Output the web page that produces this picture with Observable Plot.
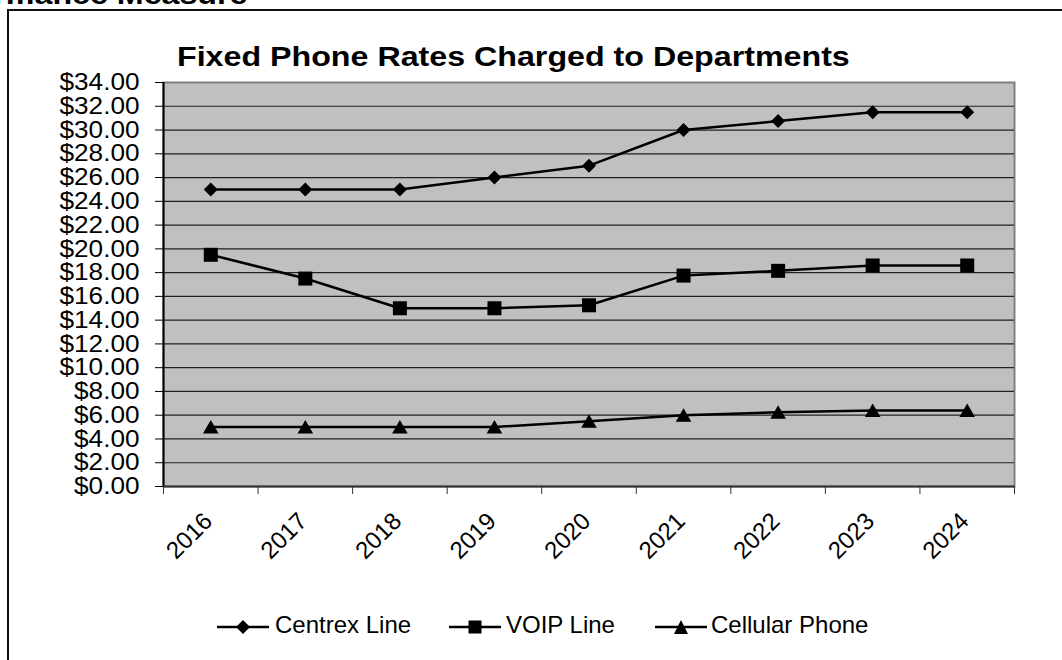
<!DOCTYPE html>
<html><head><meta charset="utf-8">
<script src="https://cdn.jsdelivr.net/npm/d3@7"></script>
<script src="https://cdn.jsdelivr.net/npm/@observablehq/plot@0.6"></script>
<style>
html,body{margin:0;padding:0;background:#fff;overflow:hidden}
#wrap{position:relative;width:1062px;height:660px;overflow:hidden;font-family:"Liberation Sans",Arial,sans-serif;color:#000}
#chart{position:absolute;left:0;top:0}
.outer{position:absolute;left:7px;top:9px;width:1200px;height:800px;border-left:2px solid #111;border-top:2px solid #111;box-sizing:border-box}
.big{position:absolute;font-weight:bold;font-size:28px;line-height:28px;white-space:nowrap;transform:scaleX(1.15);transform-origin:0 0}
.lg-sym{position:absolute;top:616.7px;width:52px;height:20px}
.lg-txt{position:absolute;top:612.7px;font-size:24px;line-height:24px;white-space:nowrap}
</style></head>
<body>
<div id="wrap">
  <div id="chart"></div>
  <div class="outer"></div>
  <div class="big" style="left:-89px;top:-19px">Performance Measure</div>
  <div class="big" style="left:177px;top:43px">Fixed Phone Rates Charged to Departments</div>
  <svg class="lg-sym" style="left:217px" viewBox="0 0 52 20"><line x1="0" y1="10" x2="52" y2="10" stroke="#000" stroke-width="2.5"/><path d="M26,3L33,10L26,17L19,10Z" fill="#000"/></svg>
  <div class="lg-txt" style="left:275px">Centrex Line</div>
  <svg class="lg-sym" style="left:449px" viewBox="0 0 52 20"><line x1="0" y1="10" x2="52" y2="10" stroke="#000" stroke-width="2.5"/><rect x="19.5" y="3.5" width="13" height="13" fill="#000"/></svg>
  <div class="lg-txt" style="left:506px">VOIP Line</div>
  <svg class="lg-sym" style="left:655px" viewBox="0 0 52 20"><line x1="0" y1="10" x2="52" y2="10" stroke="#000" stroke-width="2.5"/><path d="M26,3L33,17L19,17Z" fill="#000"/></svg>
  <div class="lg-txt" style="left:711px">Cellular Phone</div>
</div>
<script>
const years = ["2016", "2017", "2018", "2019", "2020", "2021", "2022", "2023", "2024"];
const centrex = [25.00, 25.00, 25.00, 26.00, 27.00, 30.00, 30.75, 31.50, 31.50];
const voip = [19.50, 17.50, 15.00, 15.00, 15.25, 17.75, 18.15, 18.60, 18.60];
const cellular = [5.00, 5.00, 5.00, 5.00, 5.50, 6.00, 6.25, 6.40, 6.40];
const seriesNames = ["Centrex Line", "VOIP Line", "Cellular Phone"];
const yTicks = [0, 2, 4, 6, 8, 10, 12, 14, 16, 18, 20, 22, 24, 26, 28, 30, 32, 34];
const xBounds = [0, 1, 2, 3, 4, 5, 6, 7, 8, 9];

const rows = [];
[centrex, voip, cellular].forEach((vals, s) =>
  vals.forEach((v, i) => rows.push({series: seriesNames[s], i, year: years[i], value: v})));
const bySeries = name => rows.filter(d => d.series === name);
const xPos = d => d.i + 0.5;

const plot = Plot.plot({
  width: 1062, height: 660,
  marginLeft: 163, marginRight: 48, marginTop: 82, marginBottom: 174,
  x: {domain: [0, 9], label: null},
  y: {domain: [0, 34], label: null},
  style: {background: "transparent", fontFamily: "Liberation Sans, Arial, sans-serif", fontSize: "24px", color: "#000", overflow: "visible"},
  marks: [
    Plot.frame({fill: "#c0c0c0", stroke: "#808080", strokeWidth: 2}),
    Plot.ruleY(yTicks.filter(t => t > 0 && t < 34), {stroke: "#222", strokeWidth: 1.2}),
    Plot.ruleX([0], {stroke: "#000", strokeWidth: 2}),
    Plot.ruleY([0], {stroke: "#333", strokeWidth: 2}),
    Plot.axisY({ticks: yTicks, tickSize: 8, tickPadding: 16, tickFormat: d3.format("$.2f"), stroke: "#000", fill: "#000", fontSize: 24, label: null}),
    Plot.axisX({ticks: xBounds, tickSize: 8, tickFormat: () => "", stroke: "#333", label: null}),
    Plot.text(years, {x: (d, i) => i + 0.5, frameAnchor: "bottom", dy: 36, dx: 3, rotate: -45, textAnchor: "end", lineAnchor: "bottom", fontSize: 24, fill: "#000"}),
    Plot.line(rows, {x: xPos, y: "value", z: "series", stroke: "#000", strokeWidth: 2.5}),
    Plot.dot(bySeries("Centrex Line"), {x: xPos, y: "value", symbol: "diamond2", r: 6.3, fill: "#000"}),
    Plot.dot(bySeries("VOIP Line"), {x: xPos, y: "value", symbol: "square", r: 7.9, fill: "#000"}),
    Plot.dot(bySeries("Cellular Phone"), {x: xPos, y: "value", symbol: "triangle", r: 5.8, fill: "#000", dy: 2})
  ]
});
document.getElementById("chart").appendChild(plot);

// slight horizontal stretch of the y tick labels to match the reference's rendering
plot.querySelectorAll('g[aria-label="y-axis tick label"] text').forEach(t => {
  const tr = t.getAttribute("transform");
  if (tr) t.setAttribute("transform", tr + " scale(1.09,1)");
});
</script>
</body></html>
